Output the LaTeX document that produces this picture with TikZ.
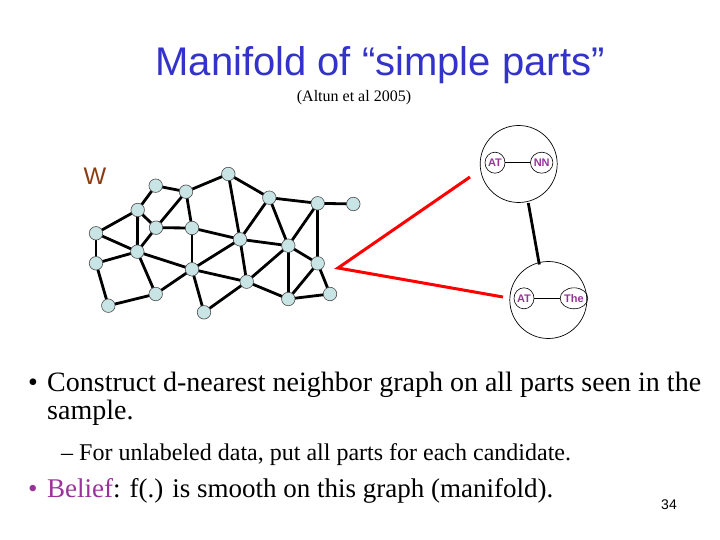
\documentclass[tikz,border=0pt]{standalone}
\usepackage{fontspec}
\setmainfont{Liberation Serif}
\newfontfamily\arialfont{Liberation Sans}
\definecolor{titleblue}{HTML}{3333CC}
\definecolor{nodefill}{HTML}{C8E4E4}
\definecolor{wbrown}{HTML}{8B3A12}
\definecolor{posmag}{HTML}{993399}
\definecolor{beliefpurple}{HTML}{993399}
\tikzset{
  gnode/.style={circle,draw=black!70,fill=nodefill,inner sep=0pt,minimum size=13.5pt,line width=0.6pt},
  gedge/.style={line width=2.8pt,black},
  bigc/.style={circle,draw=black,line width=0.7pt,minimum size=77pt,inner sep=0pt},
  posc/.style={ellipse,draw=black,line width=0.6pt,minimum width=20pt,minimum height=21pt,inner sep=0pt,font=\arialfont\bfseries\fontsize{11}{12}\selectfont,text=posmag},
  redline/.style={red,line width=3pt},
  txt/.style={inner sep=0pt,anchor=base west}
}
\usetikzlibrary{shapes.geometric}
\begin{document}
\begin{tikzpicture}[x=1pt,y=-1pt]
\useasboundingbox[fill=white] (0,0) rectangle (720,540);
% title
\node[inner sep=0pt,text=titleblue,font=\arialfont\fontsize{40}{44}\selectfont,anchor=base] (title) at (380,76) {Manifold of “simple parts”};
\node[inner sep=0pt,font=\fontsize{16}{18}\selectfont,anchor=base] (sub) at (354,102) {(Altun et al 2005)};
\node[inner sep=0pt,text=wbrown,font=\arialfont\fontsize{24}{26}\selectfont,anchor=base] (W) at (95,185) {W};
% graph edges
\foreach \n/\x/\y in {a/228.3/174,b/155.7/185.7,c/186/191.7,d/269.3/197.7,e/317.7/203.3,f/353.3/204,
  g/137.7/210,h/156/227.7,i/192/228,j/96/233.3,k/240/239.3,l/288.3/245.7,m/137.3/251.7,n/96/263.3,
  o/317.7/263.3,p/192/269.3,q/246.7/281.7,r/155.7/294,s/330/294,t/288.3/299,u/108.3/305.7,v/204/312.3}
  {\coordinate (\n) at (\x,\y);}
\foreach \p/\q in {a/c,a/d,a/k,b/c,b/g,c/h,c/i,d/e,d/k,d/l,e/f,e/l,e/o,g/h,g/j,g/m,h/i,h/m,i/k,i/p,
  j/m,j/n,m/n,m/p,m/r,k/l,k/p,k/q,l/o,l/q,l/t,o/t,o/s,s/t,p/q,p/r,p/v,q/v,q/t,n/u,u/r}
  {\draw[gedge] (\p) -- (\q);}
% graph nodes on top
\foreach \n in {a,b,c,d,e,f,g,h,i,j,k,l,m,n,o,p,q,r,s,t,u,v}
  {\node[gnode] (N\n) at (\n) {};}
% right parts
\node[bigc] (B1) at (518.7,164) {};
\node[bigc] (B2) at (548.3,300) {};
\node[posc] (at1) at (495,162.7) {AT};
\node[posc] (nn1) at (541.7,162.7) {NN};
\node[posc] (at2) at (524,298.3) {AT};
\node[posc] (the2) at (574,298.3) {The};
\draw[line width=0.6pt] (at1) -- (nn1);
\draw[line width=0.6pt] (at2) -- (the2);
\coordinate (b1s) at (528.3,203);
\coordinate (b2n) at (539.3,264.5);
\draw[line width=2.8pt] (b1s) -- (b2n);
% red lines
\coordinate (rtip) at (338,268);
\coordinate (rtop) at (470,177);
\coordinate (rbot) at (503,297);
\draw[redline,line join=miter] (rtop) -- (rtip) -- (rbot);
% bullets
\node[txt,font=\fontsize{28}{32}\selectfont] (b1) at (28,391) {•};
\node[txt,font=\fontsize{28}{32}\selectfont] (t1) at (47,391) {Construct d-nearest neighbor graph on all parts seen in the};
\node[txt,font=\fontsize{28}{32}\selectfont] (t2) at (47,419) {sample.};
\node[txt,font=\fontsize{24}{28}\selectfont] (d1) at (61,460) {–};
\node[txt,font=\fontsize{24}{28}\selectfont] (t3) at (79,460) {For unlabeled data, put all parts for each candidate.};
\node[txt,font=\fontsize{27}{32}\selectfont,text=beliefpurple] (b2) at (28,497) {•};
\node[txt,font=\fontsize{27}{32}\selectfont] (t4) at (47,497) {\textcolor{beliefpurple}{Belief}: f(.) is smooth on this graph (manifold).};
\node[inner sep=0pt,anchor=base,font=\arialfont\fontsize{14}{16}\selectfont] (pg) at (669,509) {34};
\end{tikzpicture}
\end{document}
